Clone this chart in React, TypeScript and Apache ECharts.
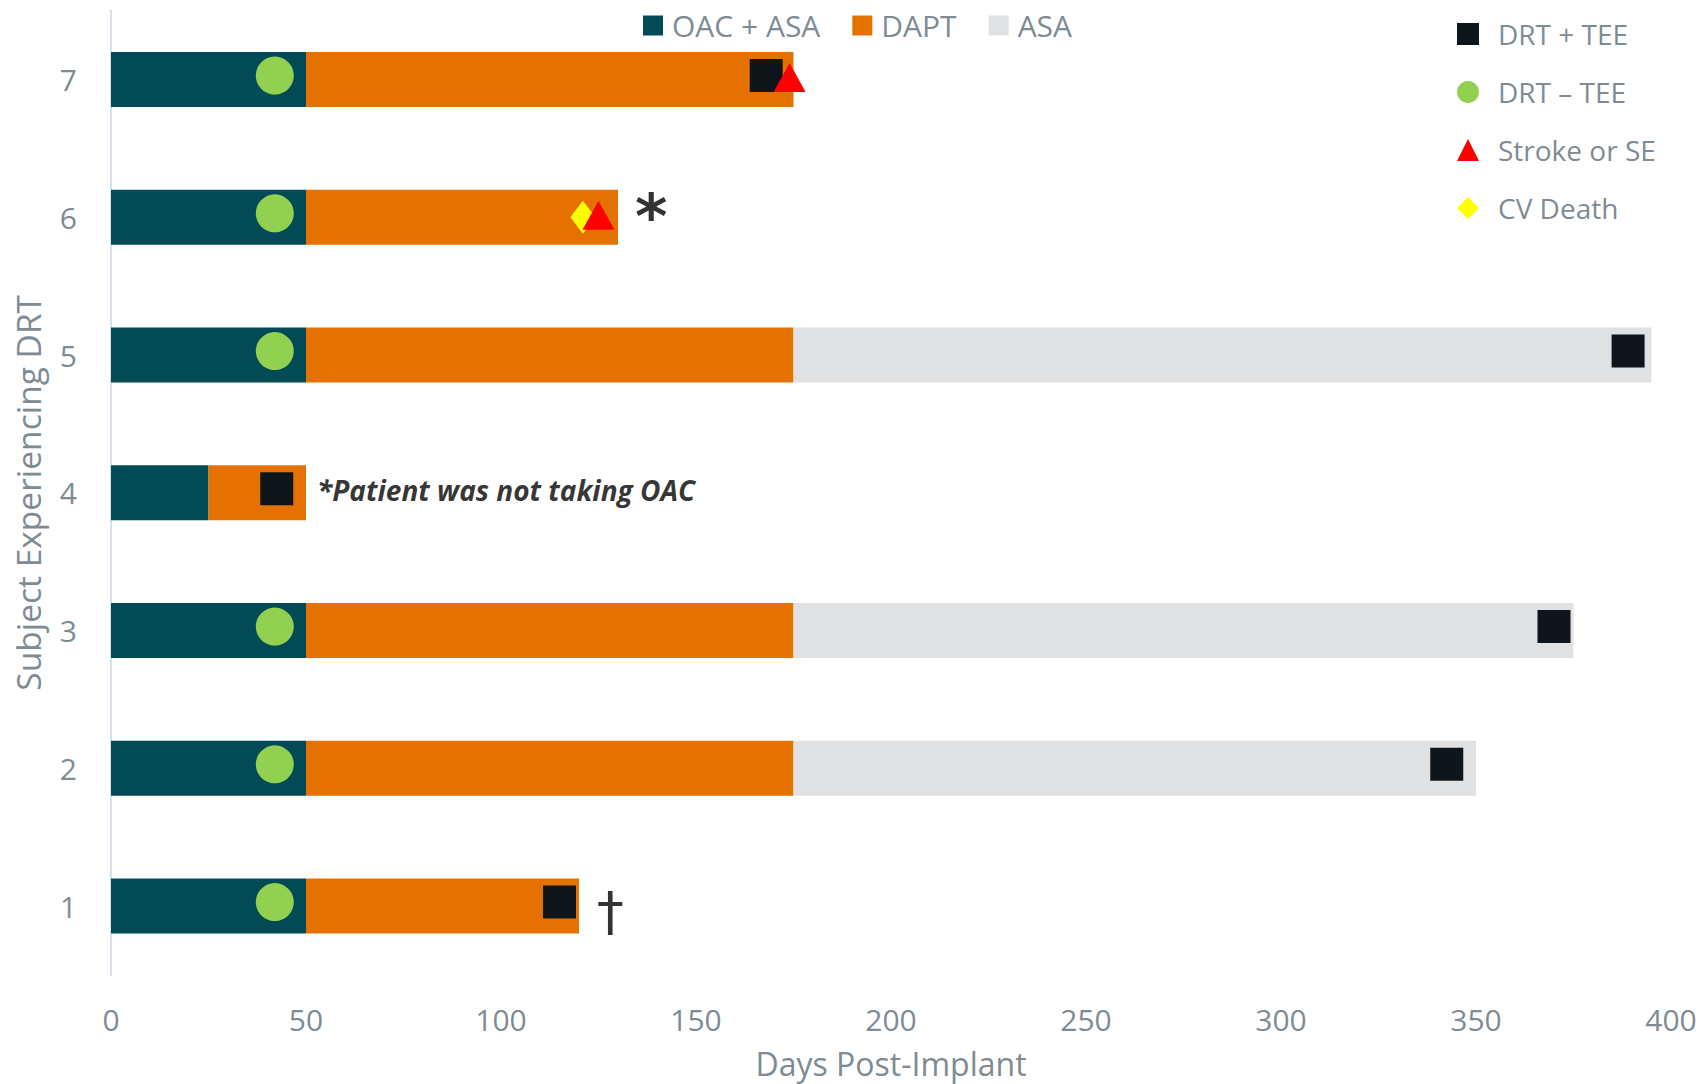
import React, { useEffect, useRef } from "react";
import * as echarts from "echarts";

// ---- data ----
const subjects = ["1", "2", "3", "4", "5", "6", "7"];
const oacEnd = [50, 50, 50, 25, 50, 50, 50];
const daptEnd = [120, 175, 175, 50, 175, 130, 175];
const asaEnd = [120, 350, 375, 50, 395, 130, 175];

const drtTeeDays = [115, 342.5, 370, 42.5, 389, 168];
const drtTeeSubjects = ["1", "2", "3", "4", "5", "7"];
const drtNoTeeDays = [42, 42, 42, 42, 42, 42];
const drtNoTeeSubjects = ["1", "2", "3", "5", "6", "7"];
const strokeDays = [125, 174];
const strokeSubjects = ["6", "7"];
const cvDeathDays = [121];
const cvDeathSubjects = ["6"];

const annoDays = [128, 138.5, 52.7];
const annoSubjects = ["1", "6", "4"];
const annoTexts = ["†", "*", "*Patient was not taking OAC"];

const xTicks = [0, 50, 100, 150, 200, 250, 300, 350, 400];

// ---- styles ----
const GRAY = "#7f8b94";
const FONT = "'Open Sans', 'Noto Sans', sans-serif";

export default function App() {
  const ref = useRef<HTMLDivElement>(null);

  useEffect(() => {
    if (!ref.current) return;
    const chart = echarts.init(ref.current, null, { renderer: "svg" });

    const oacDur = oacEnd.map((v) => v);
    const daptDur = daptEnd.map((v, i) => v - oacEnd[i]);
    const asaDur = asaEnd.map((v, i) => v - daptEnd[i]);

    const pts = (days: number[], subs: string[]) => days.map((d, i) => [d, subs[i]]);

    const annoStyles: any[] = [
      { position: "inside", fontSize: 54, fontFamily: "'DejaVu Sans'", color: "#000", offset: [0, 5] },
      { position: "inside", fontSize: 62, fontWeight: "bold", fontFamily: "'DejaVu Sans'", color: "#000", offset: [0, -1] },
      { position: "right", distance: 0, fontSize: 28, fontWeight: "bold", fontStyle: "italic", fontFamily: FONT, color: "#000", offset: [0, -3] },
    ];

    const option: any = {
      animation: false,
      backgroundColor: "#fff",
      textStyle: { fontFamily: FONT },
      grid: { left: 111, right: 32, top: 10.7, bottom: 104.5, containLabel: false },
      legend: [
        {
          data: ["OAC + ASA", "DAPT", "ASA"],
          orient: "horizontal",
          left: 643,
          top: 10.5,
          padding: 0,
          icon: "rect",
          itemWidth: 20,
          itemHeight: 20,
          itemGap: 32,
          textStyle: { fontSize: 30, color: GRAY, fontFamily: FONT, lineHeight: 30, padding: [0, 0, 0, 4] },
        },
        {
          data: [
            { name: "DRT + TEE", icon: "rect" },
            { name: "DRT – TEE", icon: "circle" },
            { name: "Stroke or SE", icon: "triangle" },
            { name: "CV Death", icon: "diamond" },
          ],
          orient: "vertical",
          left: 1457,
          top: 19,
          padding: 0,
          itemWidth: 22,
          itemHeight: 22,
          itemGap: 28,
          textStyle: { fontSize: 28, color: GRAY, fontFamily: FONT, lineHeight: 30, padding: [0, 0, 0, 14] },
        },
      ],
      xAxis: {
        type: "value",
        min: xTicks[0],
        max: xTicks[xTicks.length - 1],
        interval: xTicks[1] - xTicks[0],
        axisLine: { show: false },
        axisTick: { show: false },
        splitLine: { show: false },
        axisLabel: { fontSize: 30, color: GRAY, margin: 29, fontFamily: FONT },
        name: "Days Post-Implant",
        nameLocation: "middle",
        nameGap: 72,
        nameTextStyle: { fontSize: 32, color: GRAY, fontFamily: FONT },
      },
      yAxis: {
        type: "category",
        data: subjects,
        axisLine: { show: true, lineStyle: { color: "#d5e0ea", width: 2 } },
        axisTick: { show: false },
        splitLine: { show: false },
        axisLabel: { fontSize: 30, color: GRAY, margin: 34, fontFamily: FONT },
        name: "Subject Experiencing DRT",
        nameLocation: "middle",
        nameGap: 66,
        nameTextStyle: { fontSize: 33.5, color: GRAY, fontFamily: FONT },
      },
      series: [
        { name: "OAC + ASA", type: "bar", stack: "t", barWidth: 55, data: oacDur, itemStyle: { color: "#024a56" } },
        { name: "DAPT", type: "bar", stack: "t", barWidth: 55, data: daptDur, itemStyle: { color: "#e57200" } },
        { name: "ASA", type: "bar", stack: "t", barWidth: 55, data: asaDur, itemStyle: { color: "#e0e1e3" } },
        {
          name: "DRT + TEE",
          type: "scatter",
          symbol: "rect",
          symbolSize: 33,
          symbolOffset: [0, -4],
          data: pts(drtTeeDays, drtTeeSubjects),
          itemStyle: { color: "#0e151b", opacity: 1 },
          z: 3,
        },
        {
          name: "DRT – TEE",
          type: "scatter",
          symbol: "circle",
          symbolSize: 38,
          symbolOffset: [0, -4],
          data: pts(drtNoTeeDays, drtNoTeeSubjects),
          itemStyle: { color: "#92d050", opacity: 1 },
          z: 3,
        },
        {
          name: "CV Death",
          type: "scatter",
          symbol: "diamond",
          symbolSize: [25, 33],
          data: pts(cvDeathDays, cvDeathSubjects),
          itemStyle: { color: "#ffff00", opacity: 1 },
          z: 4,
        },
        {
          name: "Stroke or SE",
          type: "scatter",
          symbol: "triangle",
          symbolSize: [32, 29],
          symbolOffset: [0, -2],
          data: pts(strokeDays, strokeSubjects),
          itemStyle: { color: "#ff0000", opacity: 1 },
          z: 5,
        },
        {
          name: "annotations",
          type: "scatter",
          silent: true,
          symbolSize: 1,
          itemStyle: { color: "rgba(0,0,0,0)" },
          z: 6,
          data: annoDays.map((d, i) => ({
            value: [d, annoSubjects[i]],
            label: { show: true, formatter: annoTexts[i], ...annoStyles[i] },
          })),
        },
      ],
    };

    chart.setOption(option);
    return () => chart.dispose();
  }, []);

  return (
    <div
      ref={ref}
      style={{ position: "fixed", left: 0, top: 0, width: 1703, height: 1084, overflow: "hidden" }}
    />
  );
}
